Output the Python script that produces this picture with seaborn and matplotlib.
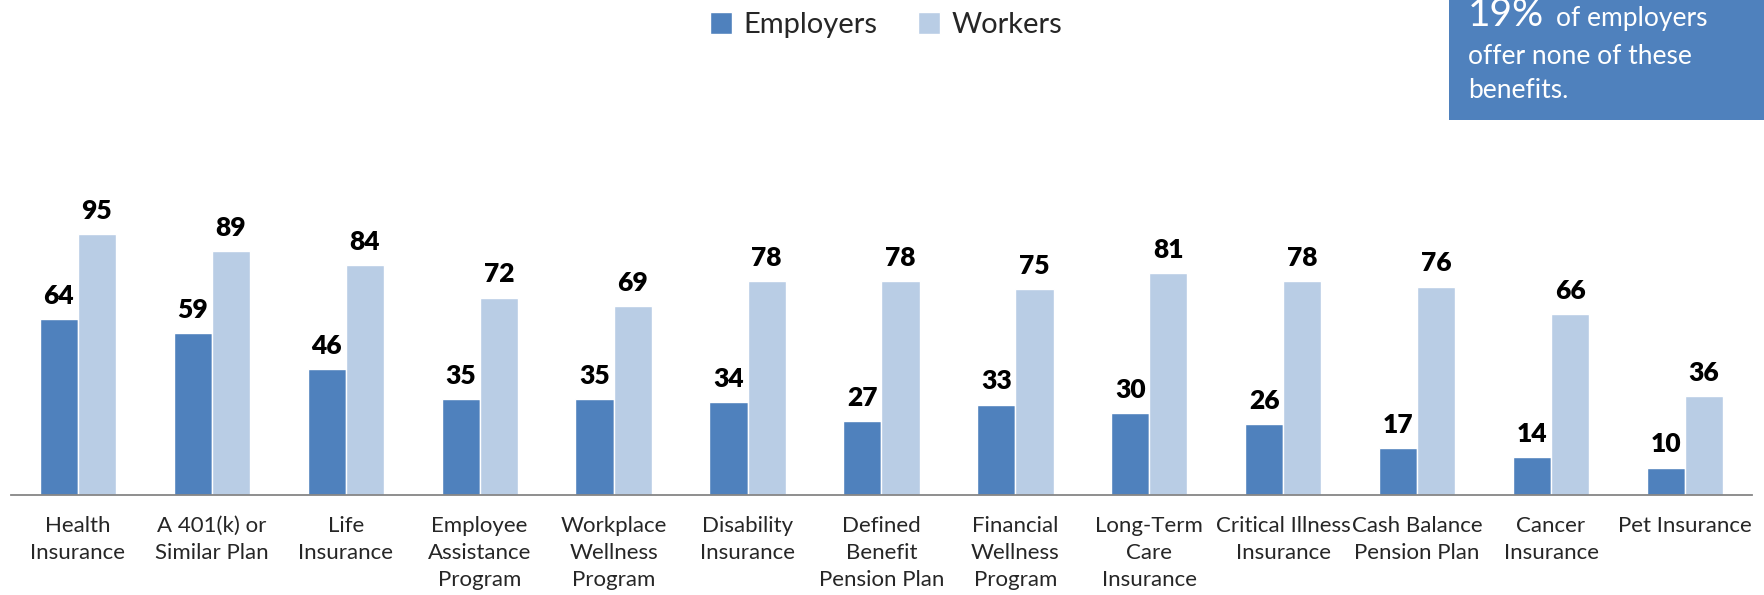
import numpy as np
import pandas as pd
import matplotlib
matplotlib.use("Agg")
import matplotlib.pyplot as plt
import seaborn as sns
from matplotlib.patches import Rectangle

# --- data ---
categories = [
    "Health\nInsurance", "A 401(k) or\nSimilar Plan", "Life\nInsurance",
    "Employee\nAssistance\nProgram", "Workplace\nWellness\nProgram",
    "Disability\nInsurance", "Defined\nBenefit\nPension Plan",
    "Financial\nWellness\nProgram", "Long-Term\nCare\nInsurance",
    "Critical Illness\nInsurance", "Cash Balance\nPension Plan",
    "Cancer\nInsurance", "Pet Insurance",
]
employers = [64, 59, 46, 35, 35, 34, 27, 33, 30, 26, 17, 14, 10]
workers = [95, 89, 84, 72, 69, 78, 78, 75, 81, 78, 76, 66, 36]
series = ["Employers", "Workers"]
callout_pct = "19%"

DARK = "#4F81BD"
LIGHT = "#B9CDE5"

sns.set_theme(style="white")
plt.rcParams["font.family"] = ["Lato", "DejaVu Sans"]

df = pd.DataFrame({
    "benefit": categories * 2,
    "group": [series[0]] * len(categories) + [series[1]] * len(categories),
    "pct": employers + workers,
})

fig = plt.figure(figsize=(17.65, 5.95), dpi=100)
ax = fig.add_axes([0.0062, 0.168, 0.9864, 0.461])

sns.barplot(
    data=df, x="benefit", y="pct", hue="group",
    palette=[DARK, LIGHT], width=0.57, gap=0, saturation=1,
    ax=ax, legend=True,
)

for cont in ax.containers:
    ax.bar_label(cont, fontsize=19, fontweight="heavy", padding=8, color="black")

ax.set_ylim(0, 100)
ax.set_xlim(-0.5, len(categories) - 0.5)
ax.set_xlabel("")
ax.set_ylabel("")
ax.set_yticks([])

# category labels at centres, tick marks at group boundaries
ax.set_xticks(range(len(categories)))
ax.set_xticklabels(categories, fontsize=16, linespacing=1.45)
ax.tick_params(axis="x", which="major", length=0, pad=15)
ax.set_xticks(np.arange(-0.5, len(categories)), minor=True)
ax.tick_params(axis="x", which="minor", length=8, width=1.2,
               color="#868686", direction="out")

for side in ["left", "top", "right"]:
    ax.spines[side].set_visible(False)
ax.spines["bottom"].set_color("#868686")
ax.spines["bottom"].set_linewidth(1.3)

sns.move_legend(
    ax, loc="center", bbox_to_anchor=(0.502, 0.958),
    bbox_transform=fig.transFigure, ncol=2, frameon=False, title=None,
    fontsize=21, handlelength=0.75, handleheight=0.75, handletextpad=0.4,
    columnspacing=1.4,
)

# callout box, top right
fig.patches.append(Rectangle((0.821, 0.798), 0.2, 0.25, transform=fig.transFigure,
                             facecolor=DARK, edgecolor="none", zorder=0))
fig.text(0.8317, 0.956, callout_pct, fontsize=28, color="white", va="baseline")
fig.text(0.8816, 0.956, "of employers", fontsize=19, color="white", va="baseline")
fig.text(0.8317, 0.892, "offer none of these", fontsize=19, color="white", va="baseline")
fig.text(0.8317, 0.835, "benefits.", fontsize=19, color="white", va="baseline")

fig.savefig("out.png", dpi=100)
